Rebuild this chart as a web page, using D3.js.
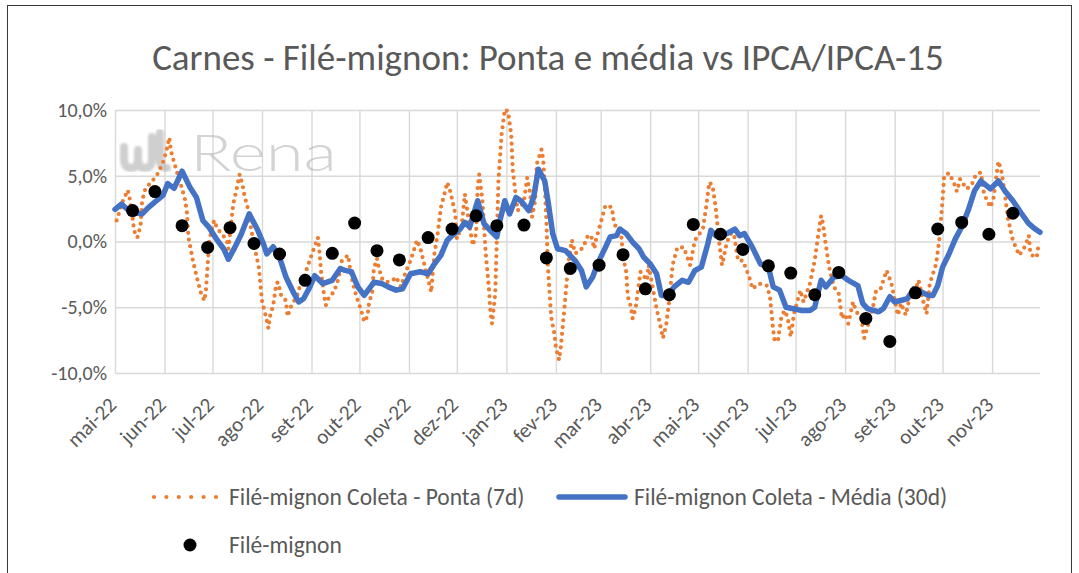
<!DOCTYPE html>
<html>
<head>
<meta charset="utf-8">
<script src="https://cdn.jsdelivr.net/npm/d3@7"></script>
<style>
  body { margin: 0; background: #fff; }
  svg text { font-family: Carlito, Calibri, Lato, "Noto Sans", sans-serif; fill: #595959; }
</style>
</head>
<body>
<div id="chart"></div>
<script>
// Filé-mignon Coleta - Ponta (7d)
const pontaDatas = [
  "2022-05-02","2022-05-06","2022-05-09","2022-05-10","2022-05-12","2022-05-13","2022-05-15","2022-05-17","2022-05-18","2022-05-20",
  "2022-05-25","2022-05-28","2022-05-31","2022-06-02","2022-06-04","2022-06-05","2022-06-07","2022-06-09","2022-06-12","2022-06-14",
  "2022-06-15","2022-06-16","2022-06-19","2022-06-22","2022-06-24","2022-06-26","2022-06-27","2022-06-28","2022-06-29","2022-07-02",
  "2022-07-04","2022-07-06","2022-07-10","2022-07-11","2022-07-12","2022-07-14","2022-07-16","2022-07-18","2022-07-20","2022-07-21",
  "2022-07-23","2022-07-25","2022-07-27","2022-07-30","2022-08-01","2022-08-04","2022-08-05","2022-08-06","2022-08-08","2022-08-10",
  "2022-08-11","2022-08-13","2022-08-16","2022-08-17","2022-08-19","2022-08-23","2022-08-25","2022-08-28","2022-09-01","2022-09-05",
  "2022-09-06","2022-09-07","2022-09-09","2022-09-10","2022-09-12","2022-09-15","2022-09-18","2022-09-20","2022-09-24","2022-09-25",
  "2022-09-26","2022-09-28","2022-09-30","2022-10-02","2022-10-04","2022-10-06","2022-10-07","2022-10-09","2022-10-10","2022-10-12",
  "2022-10-13","2022-10-15","2022-10-18","2022-10-22","2022-10-24","2022-10-27","2022-10-30","2022-11-02","2022-11-04","2022-11-06",
  "2022-11-08","2022-11-10","2022-11-12","2022-11-15","2022-11-16","2022-11-17","2022-11-19","2022-11-21","2022-11-23","2022-11-25",
  "2022-11-27","2022-11-30","2022-12-01","2022-12-04","2022-12-06","2022-12-09","2022-12-11","2022-12-13","2022-12-14","2022-12-15",
  "2022-12-17","2022-12-19","2022-12-21","2022-12-22","2022-12-23","2022-12-25","2022-12-26","2022-12-27","2022-12-29","2022-12-31",
  "2023-01-02","2023-01-04","2023-01-05","2023-01-07","2023-01-08","2023-01-10","2023-01-12","2023-01-14","2023-01-16","2023-01-17",
  "2023-01-19","2023-01-20","2023-01-23","2023-01-24","2023-01-25","2023-01-26","2023-01-27","2023-01-29","2023-01-31","2023-02-01",
  "2023-02-03","2023-02-04","2023-02-06","2023-02-08","2023-02-09","2023-02-11","2023-02-13","2023-02-15","2023-02-18","2023-02-21",
  "2023-02-23","2023-02-25","2023-02-26","2023-03-02","2023-03-04","2023-03-08","2023-03-09","2023-03-11","2023-03-14","2023-03-15",
  "2023-03-17","2023-03-18","2023-03-20","2023-03-21","2023-03-23","2023-03-25","2023-03-26","2023-03-30","2023-03-31","2023-04-02",
  "2023-04-05","2023-04-08","2023-04-09","2023-04-11","2023-04-13","2023-04-15","2023-04-18","2023-04-22","2023-04-26","2023-04-29",
  "2023-05-04","2023-05-06","2023-05-08","2023-05-10","2023-05-12","2023-05-14","2023-05-16","2023-05-19","2023-05-23","2023-05-25",
  "2023-05-26","2023-05-29","2023-06-02","2023-06-04","2023-06-08","2023-06-13","2023-06-15","2023-06-17","2023-06-18","2023-06-20",
  "2023-06-22","2023-06-24","2023-06-26","2023-06-28","2023-06-30","2023-07-04","2023-07-06","2023-07-10","2023-07-13","2023-07-15",
  "2023-07-17","2023-07-18","2023-07-20","2023-07-22","2023-07-25","2023-07-28","2023-07-30","2023-08-01","2023-08-03","2023-08-06",
  "2023-08-08","2023-08-11","2023-08-13","2023-08-15","2023-08-19","2023-08-20","2023-08-23","2023-08-27","2023-08-30","2023-09-02",
  "2023-09-03","2023-09-05","2023-09-08","2023-09-10","2023-09-14","2023-09-16","2023-09-18","2023-09-21","2023-09-23","2023-09-27",
  "2023-09-29","2023-10-01","2023-10-02","2023-10-05","2023-10-08","2023-10-10","2023-10-12","2023-10-16","2023-10-19","2023-10-22",
  "2023-10-25","2023-10-27","2023-10-31","2023-11-02","2023-11-04","2023-11-05","2023-11-07","2023-11-09","2023-11-11","2023-11-14",
  "2023-11-18","2023-11-22","2023-11-24","2023-11-25","2023-11-28","2023-11-29","2023-11-30"
];
const pontaValores = [
  1.6, 3.1, 3.9, 3.4, 1.8, 0.8, 0.3, 1.2, 3.1, 4.0,
  4.7, 5.2, 6.0, 6.8, 7.9, 6.9, 6.0, 5.2, 4.0, 3.1,
  2.2, 0.3, -1.6, -3.1, -4.0, -4.5, -3.6, -1.8, 0.1, 1.6,
  1.0, 0.7, 0.1, -0.55, 0.6, 2.85, 3.9, 5.1, 4.2, 3.5,
  2.6, 1.1, -0.2, -1.95, -4.5, -6.0, -6.6, -5.7, -4.85, -3.2,
  -3.1, -4.1, -4.5, -5.7, -5.0, -4.1, -3.3, -2.45, -1.05, 0.3,
  -0.8, -2.3, -4.2, -4.85, -4.2, -3.85, -2.8, -1.45, -1.05, -1.95,
  -2.7, -3.7, -4.5, -5.2, -6.1, -5.7, -4.7, -3.85, -2.1, -1.3,
  -1.95, -2.8, -3.1, -2.95, -2.7, -3.45, -2.3, -1.45, -0.7, 0.1,
  -0.45, -1.45, -2.4, -3.85, -2.2, -0.9, 0.6, 2.6, 3.5, 4.5,
  3.75, 2.1, 0.2, 1.2, 3.6, 1.1, -0.3, 0.6, 4.1, 5.1,
  3.1, -0.8, -3.45, -5.35, -6.25, -3.95, 0.1, 4.6, 8.15, 10.05,
  9.9, 8.15, 5.4, 3.35, 2.35, 2.6, 3.1, 4.85, 3.6, 1.85,
  3.1, 5.9, 7.0, 6.25, 4.35, 1.6, -1.95, -5.7, -7.0, -8.1,
  -9.0, -8.1, -5.5, -2.7, -1.45, 0.1, -0.9, -0.8, -0.45, 0.45,
  0.45, -0.55, 0.1, 1.85, 2.75, 2.6, 1.7, 0.85, 0.35, -1.2,
  -2.3, -4.2, -5.0, -5.85, -5.0, -3.1, -2.3, -2.95, -1.8, -3.1,
  -5.1, -6.75, -7.35, -6.35, -4.45, -1.8, -0.45, -0.45, -1.8, 0.1,
  0.95, 2.6, 4.5, 4.25, 2.6, 0.1, -1.8, -0.05, 0.95, -0.7,
  -1.45, -1.45, -2.7, -3.6, -3.2, -3.35, -4.2, -6.75, -7.6, -7.5,
  -5.85, -5.25, -5.75, -7.25, -5.5, -3.7, -4.6, -3.2, -1.45, 0.35,
  1.95, 1.45, -0.3, -1.95, -3.45, -3.95, -5.85, -5.5, -6.25, -4.6,
  -5.35, -5.75, -7.35, -6.5, -4.7, -3.85, -3.7, -2.2, -3.2, -5.0,
  -5.6, -4.7, -5.6, -4.45, -3.7, -2.95, -4.1, -5.5, -3.2, -1.7,
  0.2, 3.1, 5.0, 5.2, 4.5, 3.8, 4.75, 4.0, 4.25, 5.1,
  5.25, 3.6, 2.6, 3.35, 5.25, 6.1, 5.25, 3.6, 1.7, 0.1,
  -1.05, -0.3, 0.45, -0.95, -1.2, -1.2, -0.3
];

// Filé-mignon Coleta - Média (30d)
const mediaDatas = [
  "2022-05-01","2022-05-05","2022-05-11","2022-05-18","2022-05-22","2022-05-27","2022-05-31","2022-06-03","2022-06-07","2022-06-12",
  "2022-06-17","2022-06-21","2022-06-25","2022-06-29","2022-07-04","2022-07-08","2022-07-11","2022-07-15","2022-07-19","2022-07-24",
  "2022-07-29","2022-08-02","2022-08-04","2022-08-08","2022-08-12","2022-08-16","2022-08-21","2022-08-24","2022-08-27","2022-08-31",
  "2022-09-03","2022-09-08","2022-09-14","2022-09-19","2022-09-22","2022-09-26","2022-09-30","2022-10-04","2022-10-10","2022-10-15",
  "2022-10-19","2022-10-24","2022-10-28","2022-11-02","2022-11-08","2022-11-13","2022-11-17","2022-11-21","2022-11-25","2022-11-28",
  "2022-12-03","2022-12-06","2022-12-09","2022-12-14","2022-12-18","2022-12-23","2022-12-26","2022-12-28","2022-12-31","2023-01-03",
  "2023-01-07","2023-01-10","2023-01-15","2023-01-18","2023-01-21","2023-01-25","2023-01-27","2023-01-30","2023-02-02","2023-02-07",
  "2023-02-13","2023-02-17","2023-02-20","2023-02-24","2023-02-27","2023-03-04","2023-03-07","2023-03-11","2023-03-13","2023-03-17",
  "2023-03-21","2023-03-25","2023-03-28","2023-04-01","2023-04-05","2023-04-08","2023-04-12","2023-04-16","2023-04-21","2023-04-25",
  "2023-04-29","2023-05-03","2023-05-07","2023-05-09","2023-05-12","2023-05-19","2023-05-24","2023-05-27","2023-05-30","2023-06-04",
  "2023-06-09","2023-06-14","2023-06-17","2023-06-21","2023-06-25","2023-06-29","2023-07-05","2023-07-10","2023-07-13","2023-07-15",
  "2023-07-17","2023-07-20","2023-07-25","2023-07-30","2023-08-03","2023-08-09","2023-08-12","2023-08-15","2023-08-22","2023-08-25",
  "2023-08-29","2023-09-01","2023-09-06","2023-09-09","2023-09-13","2023-09-18","2023-09-22","2023-09-25","2023-09-28","2023-10-01",
  "2023-10-05","2023-10-09","2023-10-13","2023-10-17","2023-10-21","2023-10-25","2023-10-31","2023-11-05","2023-11-09","2023-11-14",
  "2023-11-19","2023-11-24","2023-11-28","2023-12-01"
];
const mediaValores = [
  2.45, 2.85, 2.2, 2.1, 2.6, 3.1, 3.5, 4.4, 4.05, 5.35,
  4.1, 3.35, 1.6, 1.05, 0.1, -0.55, -1.35, -0.45, 0.55, 2.1,
  0.95, -0.2, -0.95, -0.4, -1.2, -2.7, -3.95, -4.6, -4.35, -3.45,
  -2.6, -3.2, -2.95, -2.05, -2.2, -2.3, -3.45, -4.1, -3.1, -3.2,
  -3.45, -3.7, -3.6, -2.45, -2.3, -2.45, -1.7, -1.05, 0.1, 0.45,
  0.95, 1.45, 1.1, 3.1, 1.35, 0.7, 0.35, 1.6, 3.1, 2.1,
  3.35, 3.1, 2.35, 3.35, 5.5, 4.6, 3.1, 0.6, -0.55, -0.7,
  -1.45, -2.2, -3.45, -2.7, -1.7, -0.45, 0.35, 0.45, 0.95, 0.6,
  -0.05, -0.55, -1.2, -1.7, -2.45, -4.1, -4.1, -3.45, -2.95, -3.1,
  -2.2, -1.95, -0.2, 0.85, 0.45, 0.6, 0.95, 0.45, 0.6, -0.45,
  -1.7, -1.95, -3.45, -3.7, -5.0, -5.1, -5.25, -5.25, -5.0, -3.95,
  -2.95, -3.45, -2.7, -2.6, -2.95, -3.35, -4.7, -5.1, -5.35, -5.1,
  -4.2, -4.6, -4.45, -4.35, -3.6, -3.85, -4.1, -4.1, -3.35, -1.95,
  -0.95, 0.2, 1.1, 2.35, 3.85, 4.6, 4.0, 4.6, 3.85, 3.1,
  2.2, 1.35, 0.95, 0.7
];

// Filé-mignon (IPCA-15 / IPCA)
const ipcaDatas = [
  "2022-05-12","2022-05-26","2022-06-12","2022-06-28","2022-07-12","2022-07-27","2022-08-12","2022-08-28","2022-09-14","2022-09-28",
  "2022-10-12","2022-10-26","2022-11-13","2022-11-28","2022-12-13","2022-12-26","2023-01-12","2023-01-26","2023-02-10","2023-02-28",
  "2023-03-15","2023-03-29","2023-04-13","2023-04-28","2023-05-15","2023-05-29","2023-06-14","2023-06-28","2023-07-13","2023-07-28",
  "2023-08-14","2023-08-29","2023-09-14","2023-09-28","2023-10-13","2023-10-30","2023-11-14"
];
const ipcaValores = [
  2.35, 3.8, 1.2, -0.45, 1.05, -0.15, -0.95, -2.95, -0.9, 1.4,
  -0.7, -1.4, 0.3, 0.95, 1.95, 1.2, 1.25, -1.25, -2.05, -1.8,
  -1.0, -3.6, -4.05, 1.3, 0.55, -0.6, -1.85, -2.4, -4.05, -2.35,
  -5.85, -7.6, -3.9, 0.95, 1.45, 0.55, 2.15
];

const mesesAbrev = ["jan", "fev", "mar", "abr", "mai", "jun", "jul", "ago", "set", "out", "nov", "dez"];
const yTicks = [-10, -5, 0, 5, 10];

const titulo = "Carnes - Filé-mignon: Ponta e média vs IPCA/IPCA-15";
const nomes = ["Filé-mignon Coleta - Ponta (7d)", "Filé-mignon Coleta - Média (30d)", "Filé-mignon"];

const width = 1079;
const height = 573;
let plot = {"left": 115, "right": 1040, "top": 110, "bottom": 373};

const parse = d3.timeParse("%Y-%m-%d");
const inicio = parse("2022-05-01");
const fim = parse("2023-12-01");

const ponta = pontaDatas.map((d, i) => ({"data": parse(d), "valor": pontaValores[i]}));
const media = mediaDatas.map((d, i) => ({"data": parse(d), "valor": mediaValores[i]}));
const ipca = ipcaDatas.map((d, i) => ({"data": parse(d), "valor": ipcaValores[i]}));

const svg = d3.select("#chart")
  .append("svg")
  .attr("width", width)
  .attr("height", height);

// Borda do gráfico
svg.append("rect")
  .attr("x", 7.5)
  .attr("y", 5.5)
  .attr("width", 1064)
  .attr("height", 620)
  .attr("fill", "#fff")
  .attr("stroke", "#3a3a3a")
  .attr("stroke-width", 1);

const x = d3.scaleTime().domain([inicio, fim]).range([plot.left, plot.right]);
const y = d3.scaleLinear().domain([-10, 10]).range([plot.bottom, plot.top]);

// Eixo Y + linhas de grade horizontais
const yAxis = svg.append("g")
  .attr("transform", "translate(" + plot.left + ",0)")
  .call(d3.axisLeft(y)
    .tickValues(yTicks)
    .tickSize(-(plot.right - plot.left))
    .tickPadding(8)
    .tickFormat((d) => d.toFixed(1).replace(".", ",") + "%"));
yAxis.select(".domain").remove();
yAxis.selectAll("line").attr("stroke", "#D9D9D9").attr("stroke-width", 1.4);
yAxis.selectAll("text").style("font-size", "20px").attr("fill", "#595959");

// Eixo X (meses) + linhas de grade verticais
const meses = d3.timeMonth.range(inicio, fim);
const xAxis = svg.append("g")
  .attr("transform", "translate(0," + plot.bottom + ")")
  .call(d3.axisBottom(x)
    .tickValues(meses)
    .tickSize(-(plot.bottom - plot.top))
    .tickFormat((d) => mesesAbrev[d.getMonth()] + "-" + d3.timeFormat("%y")(d)));
xAxis.select(".domain").remove();
xAxis.selectAll("line").attr("stroke", "#D9D9D9").attr("stroke-width", 1.4);
xAxis.selectAll("text")
  .style("font-size", "21px")
  .attr("fill", "#595959")
  .attr("text-anchor", "end")
  .attr("y", 0)
  .attr("dy", "0.35em")
  .attr("transform", "translate(-3,28) rotate(-45)");

// Marca d'água
const blur = svg.append("defs").append("filter").attr("id", "borrao");
blur.append("feGaussianBlur").attr("stdDeviation", 1.2);

const marca = svg.append("g").attr("opacity", 0.55);
marca.append("path")
  .attr("d", "M124,147 V158 Q124,168 131,168 Q138,168 138,158 V150 M138,158 Q138,168 145,168 Q152,168 152,158 V137 M160,133 V160 Q160,168 167,168")
  .attr("fill", "none")
  .attr("stroke", "#a8a8a8")
  .attr("stroke-width", 8)
  .attr("stroke-linecap", "round")
  .attr("filter", "url(#borrao)");
marca.append("text")
  .attr("x", 190)
  .attr("y", 171)
  .attr("textLength", 147)
  .attr("lengthAdjust", "spacingAndGlyphs")
  .style("font-family", "Lato, sans-serif")
  .style("font-weight", 300)
  .style("font-size", "52px")
  .style("fill", "#b0b0b0")
  .text("Rena");

const linha = d3.line()
  .x((d) => x(d.data))
  .y((d) => y(d.valor));

// Ponta (7d) - pontilhada laranja
svg.append("path")
  .datum(ponta)
  .attr("d", linha)
  .attr("fill", "none")
  .attr("stroke", "#ED7D31")
  .attr("stroke-width", 4.2)
  .attr("stroke-linecap", "round")
  .attr("stroke-dasharray", "0 6.8");

// Média (30d) - azul
svg.append("path")
  .datum(media)
  .attr("d", linha)
  .attr("fill", "none")
  .attr("stroke", "#4472C4")
  .attr("stroke-width", 5.5)
  .attr("stroke-linejoin", "round")
  .attr("stroke-linecap", "round");

// IPCA / IPCA-15 - pontos pretos
svg.selectAll(".ipca")
  .data(ipca)
  .enter()
  .append("circle")
  .attr("class", "ipca")
  .attr("cx", (d) => x(d.data))
  .attr("cy", (d) => y(d.valor))
  .attr("r", 6.5)
  .attr("fill", "#000");

// Título
svg.append("text")
  .attr("x", 548)
  .attr("y", 70)
  .attr("text-anchor", "middle")
  .style("font-size", "37px")
  .text(titulo);

// Legenda
const legenda = svg.append("g").style("font-size", "23.5px");
legenda.append("line")
  .attr("x1", 154).attr("x2", 216)
  .attr("y1", 497).attr("y2", 497)
  .attr("stroke", "#ED7D31")
  .attr("stroke-width", 4.2)
  .attr("stroke-linecap", "round")
  .attr("stroke-dasharray", "0 12.4");
legenda.append("text").attr("x", 229).attr("y", 497).attr("dy", "0.35em").text(nomes[0]);
legenda.append("line")
  .attr("x1", 559).attr("x2", 625)
  .attr("y1", 497).attr("y2", 497)
  .attr("stroke", "#4472C4")
  .attr("stroke-width", 5.5)
  .attr("stroke-linecap", "round");
legenda.append("text").attr("x", 634).attr("y", 497).attr("dy", "0.35em").text(nomes[1]);
legenda.append("circle")
  .attr("cx", 190).attr("cy", 545)
  .attr("r", 6.5)
  .attr("fill", "#000");
legenda.append("text").attr("x", 229).attr("y", 545).attr("dy", "0.35em").text(nomes[2]);
</script>
</body>
</html>
